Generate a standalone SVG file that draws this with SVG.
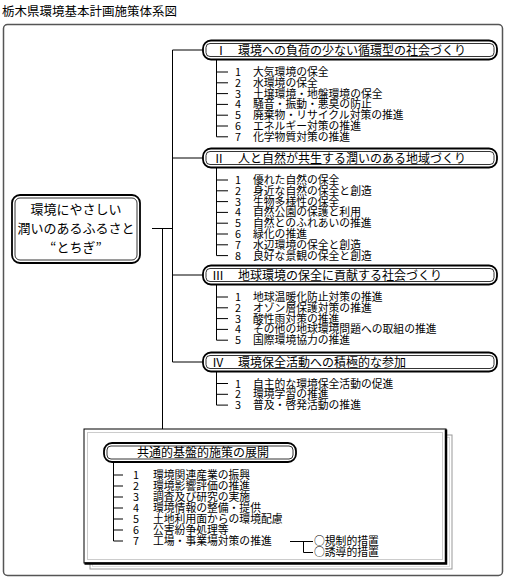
<svg xmlns="http://www.w3.org/2000/svg" width="508" height="580" viewBox="0 0 508 580">
<style>
text{font-family:"Noto Sans CJK JP","Noto Sans CJK SC",sans-serif;fill:#000}
.title{font-size:12.5px}
.main{font-size:13px;text-anchor:middle}
.th{font-size:12px}
.it{font-size:10.8px}
.num{font-size:10.8px;text-anchor:middle}
.ln{stroke:#000;stroke-width:1;fill:none}
.bo{fill:#fff;stroke:#000;stroke-width:1.8}
.bi{fill:none;stroke:#000;stroke-width:0.8}
</style>
<rect width="508" height="580" fill="#fff"/>
<text class="title" x="2" y="16">栃木県環境基本計画施策体系図</text>
<rect x="3.5" y="24.5" width="499" height="551" rx="4" fill="none" stroke="#555" stroke-width="1.5"/>

<g id="main">
<rect class="bo" x="12" y="195" width="128" height="68" rx="8"/>
<rect class="bi" x="15" y="198" width="122" height="62" rx="5"/>
<text class="main" x="76" y="214">環境にやさしい</text>
<text class="main" x="76" y="233">潤いのあるふるさと</text>
<text class="main" x="76" y="252">“とちぎ”</text>
</g>

<g id="theme1">
<rect class="bo" x="203" y="40.5" width="294" height="19" rx="8"/>
<rect class="bi" x="206" y="43.5" width="288" height="13" rx="4"/>
<text class="th" x="215" y="54.5">Ⅰ</text>
<text class="th" x="238" y="54.5">環境への負荷の少ない循環型の社会づくり</text>
<g class="it">
<text class="num" x="238" y="76">1</text><text x="253" y="76">大気環境の保全</text>
<text class="num" x="238" y="86.8">2</text><text x="253" y="86.8">水環境の保全</text>
<text class="num" x="238" y="97.6">3</text><text x="253" y="97.6">土壌環境・地盤環境の保全</text>
<text class="num" x="238" y="108.4">4</text><text x="253" y="108.4">騒音・振動・悪臭の防止</text>
<text class="num" x="238" y="119.2">5</text><text x="253" y="119.2">廃棄物・リサイクル対策の推進</text>
<text class="num" x="238" y="130">6</text><text x="253" y="130">エネルギー対策の推進</text>
<text class="num" x="238" y="140.8">7</text><text x="253" y="140.8">化学物質対策の推進</text>
</g>
</g>

<g id="theme2">
<rect class="bo" x="203" y="148.5" width="294" height="19" rx="8"/>
<rect class="bi" x="206" y="151.5" width="288" height="13" rx="4"/>
<text class="th" x="213" y="162.5">Ⅱ</text>
<text class="th" x="238" y="162.5">人と自然が共生する潤いのある地域づくり</text>
<g class="it">
<text class="num" x="238" y="184">1</text><text x="253" y="184">優れた自然の保全</text>
<text class="num" x="238" y="194.8">2</text><text x="253" y="194.8">身近な自然の保全と創造</text>
<text class="num" x="238" y="205.6">3</text><text x="253" y="205.6">生物多様性の保全</text>
<text class="num" x="238" y="216.4">4</text><text x="253" y="216.4">自然公園の保護と利用</text>
<text class="num" x="238" y="227.2">5</text><text x="253" y="227.2">自然とのふれあいの推進</text>
<text class="num" x="238" y="238">6</text><text x="253" y="238">緑化の推進</text>
<text class="num" x="238" y="248.8">7</text><text x="253" y="248.8">水辺環境の保全と創造</text>
<text class="num" x="238" y="259.6">8</text><text x="253" y="259.6">良好な景観の保全と創造</text>
</g>
</g>

<g id="theme3">
<rect class="bo" x="203" y="265.5" width="294" height="19" rx="8"/>
<rect class="bi" x="206" y="268.5" width="288" height="13" rx="4"/>
<text class="th" x="212" y="279.5">Ⅲ</text>
<text class="th" x="238" y="279.5">地球環境の保全に貢献する社会づくり</text>
<g class="it">
<text class="num" x="238" y="301">1</text><text x="253" y="301">地球温暖化防止対策の推進</text>
<text class="num" x="238" y="311.8">2</text><text x="253" y="311.8">オゾン層保護対策の推進</text>
<text class="num" x="238" y="322.6">3</text><text x="253" y="322.6">酸性雨対策の推進</text>
<text class="num" x="238" y="333.4">4</text><text x="253" y="333.4">その他の地球環境問題への取組の推進</text>
<text class="num" x="238" y="344.2">5</text><text x="253" y="344.2">国際環境協力の推進</text>
</g>
</g>

<g id="theme4">
<rect class="bo" x="203" y="352.5" width="294" height="19" rx="8"/>
<rect class="bi" x="206" y="355.5" width="288" height="13" rx="4"/>
<text class="th" x="212" y="366.5">Ⅳ</text>
<text class="th" x="238" y="366.5">環境保全活動への積極的な参加</text>
<g class="it">
<text class="num" x="238" y="387.5">1</text><text x="253" y="387.5">自主的な環境保全活動の促進</text>
<text class="num" x="238" y="398.3">2</text><text x="253" y="398.3">環境学習の推進</text>
<text class="num" x="238" y="409.1">3</text><text x="253" y="409.1">普及・啓発活動の推進</text>
</g>
</g>

<g id="common">
<rect x="90" y="435" width="362" height="134" fill="#fff" stroke="#999" stroke-width="1"/>
<rect x="92.5" y="437.5" width="357" height="129" fill="none" stroke="#bbb" stroke-width="1" stroke-dasharray="1,1"/>
<rect x="84" y="429" width="362" height="134" fill="#fff" stroke="#000" stroke-width="1"/>
<path d="M446 429.5V563.5H84.5" fill="none" stroke="#000" stroke-width="2.5"/>
<rect x="87.5" y="432.5" width="355" height="127" fill="none" stroke="#999" stroke-width="1" stroke-dasharray="1,1"/>
<rect class="bo" x="104" y="443" width="192" height="19" rx="8"/>
<rect class="bi" x="107" y="446" width="186" height="13" rx="4"/>
<text class="th" x="137" y="457">共通的基盤的施策の展開</text>
<g class="it">
<text class="num" x="136" y="479">1</text><text x="153" y="479">環境関連産業の振興</text>
<text class="num" x="136" y="490">2</text><text x="153" y="490">環境影響評価の推進</text>
<text class="num" x="136" y="501">3</text><text x="153" y="501">調査及び研究の実施</text>
<text class="num" x="136" y="512">4</text><text x="153" y="512">環境情報の整備・提供</text>
<text class="num" x="136" y="523">5</text><text x="153" y="523">土地利用面からの環境配慮</text>
<text class="num" x="136" y="534">6</text><text x="153" y="534">公害紛争処理等</text>
<text class="num" x="136" y="545">7</text><text x="153" y="545">工場・事業場対策の推進</text>
<text x="314" y="545">○規制的措置</text>
<text x="314" y="556">○誘導的措置</text>
</g>
</g>

<g id="connectors" class="ln">
<path d="M172.5 50V362M172.5 50H203M172.5 158H203M172.5 275H203M172.5 362H203"/>
<path d="M152 228.5H172.5M162.5 228.5V429"/>
<path d="M216.5 59.5V136.8M216.5 72H228M216.5 82.8H228M216.5 93.6H228M216.5 104.4H228M216.5 115.2H228M216.5 126H228M216.5 136.8H228"/>
<path d="M216.5 167.5V255.6M216.5 180H228M216.5 190.8H228M216.5 201.6H228M216.5 212.4H228M216.5 223.2H228M216.5 234H228M216.5 244.8H228M216.5 255.6H228"/>
<path d="M216.5 284.5V340.2M216.5 297H228M216.5 307.8H228M216.5 318.6H228M216.5 329.4H228M216.5 340.2H228"/>
<path d="M216.5 371.5V405.1M216.5 383.5H228M216.5 394.3H228M216.5 405.1H228"/>
<path d="M113.5 462V541M113.5 475H123M113.5 486H123M113.5 497H123M113.5 508H123M113.5 519H123M113.5 530H123M113.5 541H123"/>
<path d="M290 541.5H313M303.5 541.5V552.5H313"/>
</g>
</svg>
